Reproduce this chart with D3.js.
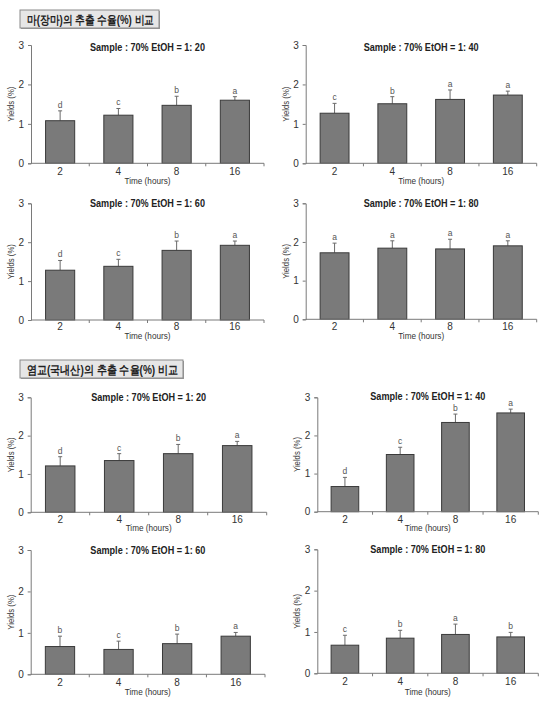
<!DOCTYPE html>
<html>
<head>
<meta charset="utf-8">
<script src="https://cdn.jsdelivr.net/npm/d3@7"></script>
<style>
  html, body { margin: 0; padding: 0; background: #fff; }
  svg { display: block; }
  text { font-family: "Liberation Sans", Arial, sans-serif; }
</style>
</head>
<body>
<svg id="chart" width="549" height="704"></svg>
<script>
// ---------- data ----------
const categories = ["2", "4", "8", "16"];
const yTickValues = [0, 1, 2, 3];
const sectionTitles = ["마(장마)의 추출 수율(%) 비교", "염교(국내산)의 추출 수율(%) 비교"];
const panelTitles = [
  "Sample : 70% EtOH = 1: 20", "Sample : 70% EtOH = 1: 40",
  "Sample : 70% EtOH = 1: 60", "Sample : 70% EtOH = 1: 80",
  "Sample : 70% EtOH = 1: 20", "Sample : 70% EtOH = 1: 40",
  "Sample : 70% EtOH = 1: 60", "Sample : 70% EtOH = 1: 80"
];
const xAxisLabel = "Time (hours)";
const yAxisLabel = "Yields (%)";

// 마(장마)
const yam20Means = [1.08, 1.22, 1.47, 1.60];
const yam20Errors = [0.25, 0.17, 0.23, 0.09];
const yam20Letters = ["d", "c", "b", "a"];
const yam40Means = [1.27, 1.51, 1.62, 1.73];
const yam40Errors = [0.25, 0.18, 0.24, 0.10];
const yam40Letters = ["c", "b", "a", "a"];
const yam60Means = [1.28, 1.38, 1.79, 1.92];
const yam60Errors = [0.25, 0.18, 0.24, 0.11];
const yam60Letters = ["d", "c", "b", "a"];
const yam80Means = [1.72, 1.84, 1.82, 1.90];
const yam80Errors = [0.25, 0.19, 0.25, 0.13];
const yam80Letters = ["a", "a", "a", "a"];
// 염교(국내산)
const shallot20Means = [1.21, 1.35, 1.53, 1.74];
const shallot20Errors = [0.24, 0.18, 0.24, 0.11];
const shallot20Letters = ["d", "c", "b", "a"];
const shallot40Means = [0.66, 1.50, 2.34, 2.59];
const shallot40Errors = [0.24, 0.19, 0.22, 0.10];
const shallot40Letters = ["d", "c", "b", "a"];
const shallot60Means = [0.67, 0.60, 0.74, 0.92];
const shallot60Errors = [0.25, 0.20, 0.23, 0.09];
const shallot60Letters = ["b", "c", "b", "a"];
const shallot80Means = [0.68, 0.85, 0.94, 0.88];
const shallot80Errors = [0.24, 0.19, 0.25, 0.11];
const shallot80Letters = ["c", "b", "a", "b"];

// ---------- layout ----------
const svg = d3.select("#chart");

const sectionBoxes = [
  { x: 20, y: 10, w: 139, h: 18, textLen: 127 },
  { x: 20, y: 360, w: 163, h: 18, textLen: 151 }
];
sectionTitles.forEach((t, i) => {
  const b = sectionBoxes[i];
  const g = svg.append("g");
  g.append("rect").attr("x", b.x + 1).attr("y", b.y + 1).attr("width", b.w).attr("height", b.h)
    .attr("fill", "#9a9a9a");
  g.append("rect").attr("x", b.x).attr("y", b.y).attr("width", b.w).attr("height", b.h)
    .attr("fill", "#e6e6e6").attr("stroke", "#8a8a8a").attr("stroke-width", 1);
  g.append("text").attr("x", b.x + 7).attr("y", b.y + b.h / 2 + 4.5)
    .attr("font-family", "'Noto Sans CJK KR', sans-serif").attr("font-weight", "bold")
    .attr("font-size", 12).attr("fill", "#222")
    .attr("textLength", b.textLen).attr("lengthAdjust", "spacingAndGlyphs")
    .text(t);
});

const panels = [
  { means: yam20Means, errs: yam20Errors, letters: yam20Letters, x0: 31, x1: 264, yT: 45, yB: 163.3, tickY: 176, labY: 184, titleOff: 5.5 },
  { means: yam40Means, errs: yam40Errors, letters: yam40Letters, x0: 305.7, x1: 536.7, yT: 45, yB: 163.3, tickY: 176, labY: 184, titleOff: 5.5 },
  { means: yam60Means, errs: yam60Errors, letters: yam60Letters, x0: 31, x1: 264, yT: 203.3, yB: 320, tickY: 330.5, labY: 339, titleOff: 4 },
  { means: yam80Means, errs: yam80Errors, letters: yam80Letters, x0: 305.7, x1: 536.7, yT: 203.3, yB: 319.3, tickY: 330.5, labY: 339, titleOff: 4 },
  { means: shallot20Means, errs: shallot20Errors, letters: shallot20Letters, x0: 30.7, x1: 266.7, yT: 397.3, yB: 512.3, tickY: 523.5, labY: 531, titleOff: 3.5 },
  { means: shallot40Means, errs: shallot40Errors, letters: shallot40Letters, x0: 317.3, x1: 538.3, yT: 397.3, yB: 511.7, tickY: 523.5, labY: 531, titleOff: 3 },
  { means: shallot60Means, errs: shallot60Errors, letters: shallot60Letters, x0: 30.7, x1: 265, yT: 550, yB: 674.3, tickY: 686.5, labY: 695, titleOff: 4 },
  { means: shallot80Means, errs: shallot80Errors, letters: shallot80Letters, x0: 317.3, x1: 538.3, yT: 549.3, yB: 673.3, tickY: 685.5, labY: 694.5, titleOff: 4 }
];

const axisColor = "#7a7a7a";
const textColor = "#333";

panels.forEach((p, i) => {
  const g = svg.append("g");
  const x = d3.scaleBand().domain(categories).range([p.x0, p.x1]).paddingInner(0.5).paddingOuter(0.25);
  const y = d3.scaleLinear().domain([0, 3]).range([p.yB, p.yT]);

  const rows = categories.map((c, k) => ({ c, m: p.means[k], e: p.errs[k], l: p.letters[k] }));
  // error bars
  g.selectAll(".err").data(rows).join("line")
    .attr("x1", d => x(d.c) + x.bandwidth() / 2).attr("x2", d => x(d.c) + x.bandwidth() / 2)
    .attr("y1", d => y(d.m)).attr("y2", d => y(d.m + d.e))
    .attr("stroke", "#6a6a6a").attr("stroke-width", 1);
  g.selectAll(".cap").data(rows).join("line")
    .attr("x1", d => x(d.c) + x.bandwidth() / 2 - 2).attr("x2", d => x(d.c) + x.bandwidth() / 2 + 2)
    .attr("y1", d => y(d.m + d.e)).attr("y2", d => y(d.m + d.e))
    .attr("stroke", "#6a6a6a").attr("stroke-width", 1);
  // bars
  g.selectAll(".bar").data(rows).join("rect")
    .attr("x", d => x(d.c)).attr("width", x.bandwidth())
    .attr("y", d => y(d.m)).attr("height", d => y(0) - y(d.m))
    .attr("fill", "#7a7a7a").attr("stroke", "#3a3a3a").attr("stroke-width", 1);
  // significance letters
  g.selectAll(".letter").data(rows).join("text")
    .attr("x", d => x(d.c) + x.bandwidth() / 2).attr("y", d => y(d.m + d.e) - 3)
    .attr("text-anchor", "middle").attr("font-size", 8.5).attr("fill", "#555")
    .text(d => d.l);

  // y axis
  const yAxis = d3.axisLeft(y).tickValues(yTickValues).tickFormat(d3.format("d")).tickSize(3).tickPadding(4);
  const ya = g.append("g").attr("transform", `translate(${p.x0},0)`).call(yAxis);
  ya.select(".domain").attr("stroke", axisColor);
  ya.selectAll(".tick line").attr("stroke", axisColor);
  ya.selectAll(".tick text").attr("font-size", 10).attr("fill", textColor)
    .attr("font-family", "'Liberation Sans', Arial, sans-serif");

  // x axis line with boundary ticks
  const bounds = categories.map(c => x(c) - x.step() * x.paddingInner() / 2).concat([p.x1]);
  g.append("line").attr("x1", p.x0).attr("x2", p.x1).attr("y1", p.yB).attr("y2", p.yB)
    .attr("stroke", axisColor).attr("stroke-width", 1);
  g.selectAll(".xt").data(bounds.slice(1)).join("line")
    .attr("x1", d => d).attr("x2", d => d).attr("y1", p.yB).attr("y2", p.yB + 3)
    .attr("stroke", axisColor);
  // x tick labels
  const xAxis = d3.axisBottom(x).tickSize(0).tickPadding(0);
  const xa = g.append("g").attr("transform", `translate(0,${p.tickY - 8})`).call(xAxis);
  xa.select(".domain").remove();
  xa.selectAll(".tick text").attr("font-size", 10).attr("fill", textColor)
    .attr("font-family", "'Liberation Sans', Arial, sans-serif");

  // titles and axis labels
  g.append("text").attr("x", (p.x0 + p.x1) / 2).attr("y", p.yT + p.titleOff)
    .attr("text-anchor", "middle").attr("font-size", 10).attr("font-weight", "bold").attr("fill", "#222")
    .attr("textLength", 115).attr("lengthAdjust", "spacingAndGlyphs")
    .text(panelTitles[i]);
  g.append("text").attr("x", (p.x0 + p.x1) / 2).attr("y", p.labY)
    .attr("text-anchor", "middle").attr("font-size", 9).attr("fill", textColor)
    .attr("textLength", 46).attr("lengthAdjust", "spacingAndGlyphs")
    .text(xAxisLabel);
  g.append("text")
    .attr("transform", `translate(${p.x0 - 17},${(p.yT + p.yB) / 2}) rotate(-90)`)
    .attr("text-anchor", "middle").attr("font-size", 9).attr("fill", textColor)
    .attr("textLength", 35).attr("lengthAdjust", "spacingAndGlyphs")
    .text(yAxisLabel);
});
</script>
</body>
</html>
